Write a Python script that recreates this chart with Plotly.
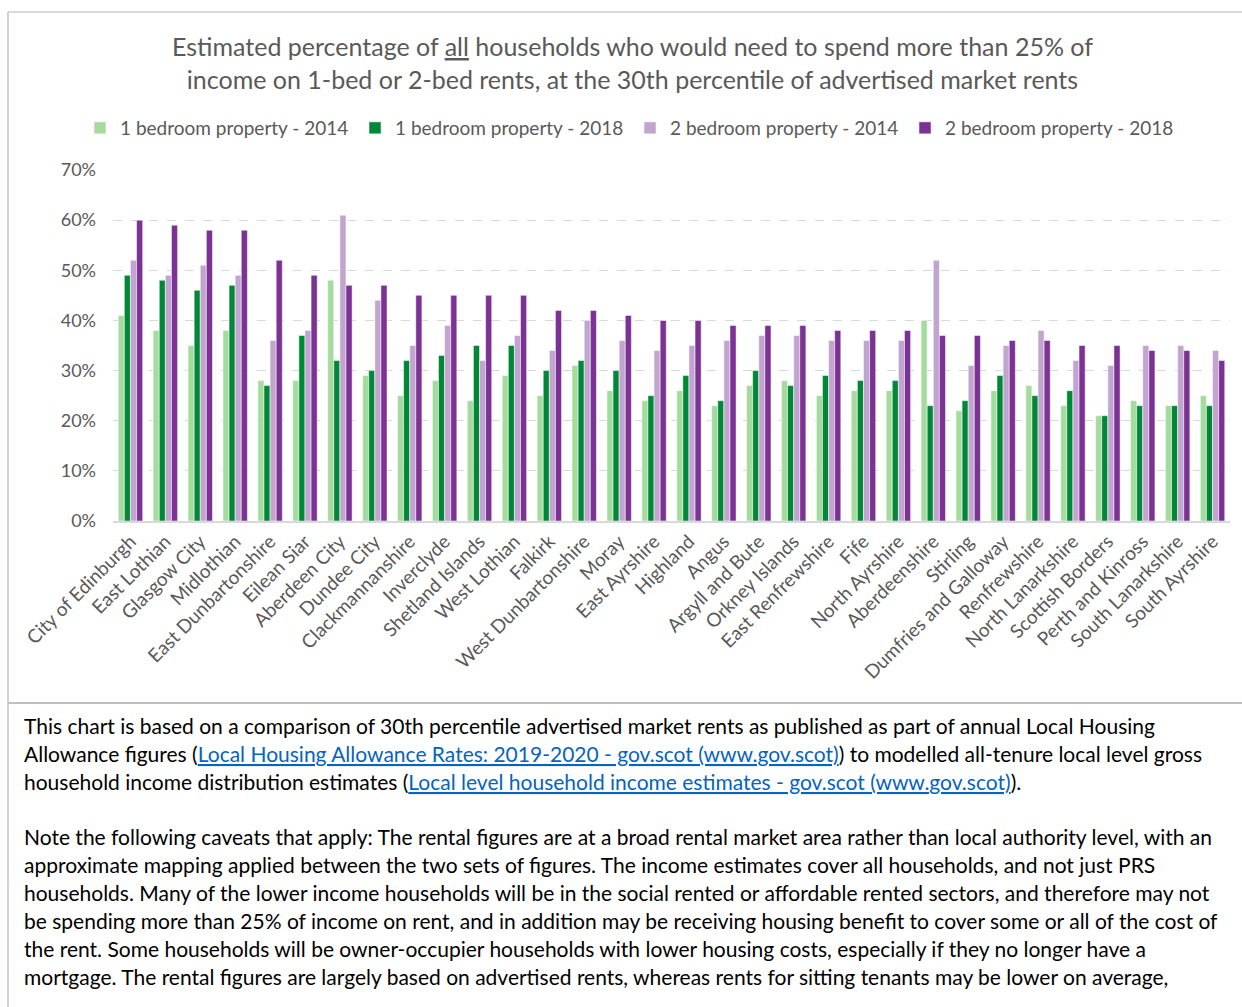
import plotly.graph_objects as go

categories = ["City of Edinburgh", "East Lothian", "Glasgow City", "Midlothian", "East Dunbartonshire",
              "Eilean Siar", "Aberdeen City", "Dundee City", "Clackmannanshire", "Inverclyde",
              "Shetland Islands", "West Lothian", "Falkirk", "West Dunbartonshire", "Moray",
              "East Ayrshire", "Highland", "Angus", "Argyll and Bute", "Orkney Islands",
              "East Renfrewshire", "Fife", "North Ayrshire", "Aberdeenshire", "Stirling",
              "Dumfries and Galloway", "Renfrewshire", "North Lanarkshire", "Scottish Borders",
              "Perth and Kinross", "South Lanarkshire", "South Ayrshire"]

bed1_2014 = [41, 38, 35, 38, 28, 28, 48, 29, 25, 28, 24, 29, 25, 31, 26, 24, 26, 23, 27, 28,
             25, 26, 26, 40, 22, 26, 27, 23, 21, 24, 23, 25]
bed1_2018 = [49, 48, 46, 47, 27, 37, 32, 30, 32, 33, 35, 35, 30, 32, 30, 25, 29, 24, 30, 27,
             29, 28, 28, 23, 24, 29, 25, 26, 21, 23, 23, 23]
bed2_2014 = [52, 49, 51, 49, 36, 38, 61, 44, 35, 39, 32, 37, 34, 40, 36, 34, 35, 36, 37, 37,
             36, 36, 36, 52, 31, 35, 38, 32, 31, 35, 35, 34]
bed2_2018 = [60, 59, 58, 58, 52, 49, 47, 47, 45, 45, 45, 45, 42, 42, 41, 40, 40, 39, 39, 39,
             38, 38, 38, 37, 37, 36, 36, 35, 35, 34, 34, 32]

series_names = ["1 bedroom property - 2014", "1 bedroom property - 2018",
                "2 bedroom property - 2014", "2 bedroom property - 2018"]
series_colors = ["#a6dba0", "#008837", "#c2a5cf", "#7b3294"]
y_ticks = [0, 10, 20, 30, 40, 50, 60, 70]
y_ticklabels = ["0%", "10%", "20%", "30%", "40%", "50%", "60%", "70%"]

W, H = 1242, 1007
PL, PR, PT, PB = 113, 1230, 170, 521
FONT = "Lato"


def px(x):
    return (x - PL) / (PR - PL)


def py(y):
    return (PB - y) / (PB - PT)


fig = go.Figure()
for name, vals, col in zip(series_names, [bed1_2014, bed1_2018, bed2_2014, bed2_2018], series_colors):
    fig.add_trace(go.Bar(x=categories, y=vals, name=name,
                         marker=dict(color=col, line=dict(color="white", width=0.5))))

shapes = [
    dict(type="line", xref="paper", yref="paper", x0=px(8), x1=px(1245), y0=py(12), y1=py(12),
         line=dict(color="#d9d9d9", width=2)),
    dict(type="line", xref="paper", yref="paper", x0=px(8), x1=px(8), y0=py(12), y1=py(1010),
         line=dict(color="#d0d0d0", width=2)),
    dict(type="line", xref="paper", yref="paper", x0=px(8), x1=px(1245), y0=py(703), y1=py(703),
         line=dict(color="#bfbfbf", width=2)),
]

annotations = [
    dict(xref="paper", yref="paper", x=px(632), y=py(62), xanchor="center", yanchor="middle",
         text="Estimated percentage of <u>all</u> households who would need to spend more than 25% of<br>"
              "income on 1-bed or 2-bed rents, at the 30th percentile of advertised market rents",
         showarrow=False, font=dict(family=FONT, size=25, color="#595959"), align="center"),
]

LINK = '<span style="color:#0563c1"><u>{}</u></span>'
body_lines = [
    (725, "This chart is based on a comparison of 30th percentile advertised market rents as published as part of annual Local Housing"),
    (753, "Allowance figures (" + LINK.format("Local Housing Allowance Rates: 2019-2020 - gov.scot (www.gov.scot)")
     + ") to modelled all-tenure local level gross"),
    (781, "household income distribution estimates (" + LINK.format("Local level household income estimates - gov.scot (www.gov.scot)") + ")."),
    (836, "Note the following caveats that apply: The rental figures are at a broad rental market area rather than local authority level, with an"),
    (864, "approximate mapping applied between the two sets of figures. The income estimates cover all households, and not just PRS"),
    (892, "households. Many of the lower income households will be in the social rented or affordable rented sectors, and therefore may not"),
    (920, "be spending more than 25% of income on rent, and in addition may be receiving housing benefit to cover some or all of the cost of"),
    (948, "the rent. Some households will be owner-occupier households with lower housing costs, especially if they no longer have a"),
    (976, "mortgage. The rental figures are largely based on advertised rents, whereas rents for sitting tenants may be lower on average,"),
]
for yy, txt in body_lines:
    annotations.append(dict(xref="paper", yref="paper", x=px(22), y=py(yy), xanchor="left", yanchor="middle",
                            text=txt, showarrow=False, font=dict(family=FONT, size=21, color="#000000"),
                            align="left"))

fig.update_layout(
    width=W, height=H,
    margin=dict(l=PL, r=W - PR, t=PT, b=H - PB, pad=0),
    paper_bgcolor="white", plot_bgcolor="white",
    barmode="group", bargap=0.3, bargroupgap=0,
    font=dict(family=FONT, color="#595959"),
    showlegend=True,
    legend=dict(orientation="h", x=px(80), y=py(128), xanchor="left", yanchor="middle",
                font=dict(family=FONT, size=19, color="#595959"), entrywidth=230, entrywidthmode="pixels",
                itemwidth=30, tracegroupgap=0, bgcolor="rgba(0,0,0,0)"),
    xaxis=dict(tickangle=-45, tickfont=dict(family=FONT, size=19, color="#595959"), showgrid=False,
               showline=True, linecolor="#d9d9d9", linewidth=2, ticks="", automargin=False),
    yaxis=dict(range=[0, 70], tickmode="array", tickvals=y_ticks, ticktext=y_ticklabels, showgrid=True,
               gridcolor="#d9d9d9", griddash="dash", gridwidth=1.3, zeroline=False, showline=False,
               ticklabelstandoff=16, tickfont=dict(family=FONT, size=18, color="#595959"), automargin=False),
    shapes=shapes, annotations=annotations,
)

fig.write_html("out.html")
